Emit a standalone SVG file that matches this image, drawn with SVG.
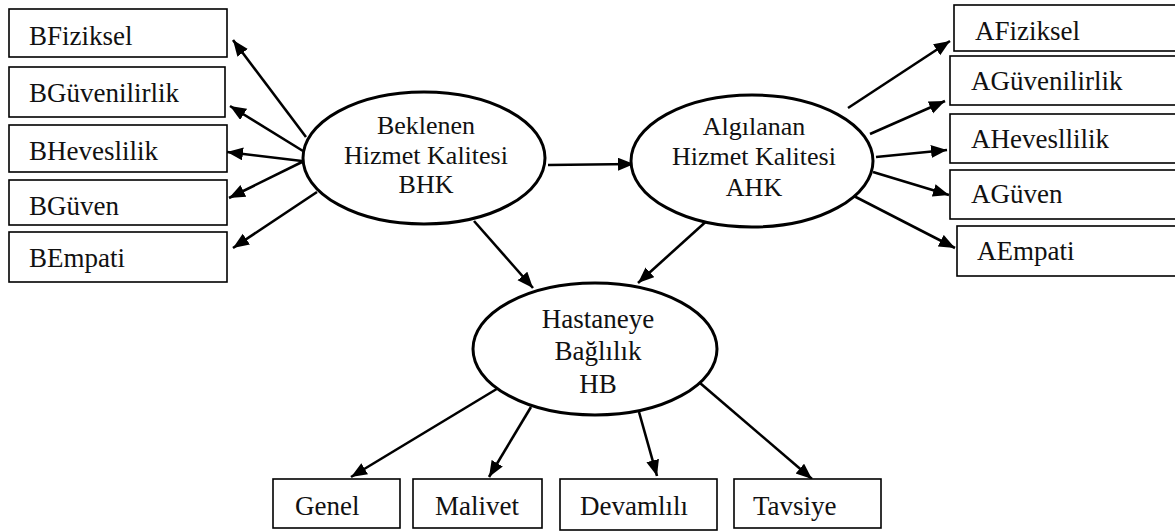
<svg xmlns="http://www.w3.org/2000/svg" width="1175" height="531" viewBox="0 0 1175 531">
<defs>
<marker id="ah" markerUnits="userSpaceOnUse" markerWidth="18" markerHeight="14" refX="16" refY="6.5" orient="auto">
<path d="M0,0 L16,6.5 L0,13 z" fill="#000"/>
</marker>
<style>
.box{fill:#fff;stroke:#000;stroke-width:1.6}
.ell{fill:#fff;stroke:#000;stroke-width:3}
.c{text-anchor:middle;font-size:26px}
.e{stroke:#000;stroke-width:2.6;fill:none;marker-end:url(#ah)}
</style>
</defs>
<rect width="1175" height="531" fill="#fff"/>
<g id="connectors">
<line class="e" x1="306" y1="137" x2="233" y2="40"/>
<line class="e" x1="303" y1="151" x2="230" y2="106"/>
<line class="e" x1="302" y1="161" x2="227" y2="152"/>
<line class="e" x1="302" y1="162" x2="229" y2="198"/>
<line class="e" x1="317" y1="192" x2="233" y2="248"/>
<line class="e" x1="548" y1="165" x2="634" y2="164"/>
<line class="e" x1="848" y1="108" x2="950" y2="41"/>
<line class="e" x1="870" y1="134" x2="945" y2="101"/>
<line class="e" x1="876" y1="157" x2="947" y2="150"/>
<line class="e" x1="873" y1="172" x2="949" y2="195"/>
<line class="e" x1="848" y1="193" x2="955" y2="248"/>
<line class="e" x1="474" y1="221" x2="533" y2="288"/>
<line class="e" x1="721" y1="208" x2="638" y2="283"/>
<line class="e" x1="500" y1="387" x2="351" y2="477"/>
<line class="e" x1="531" y1="407" x2="489" y2="477"/>
<line class="e" x1="639" y1="412" x2="657" y2="476"/>
<line class="e" x1="700" y1="383" x2="812" y2="479"/>
</g>
<g font-family="Liberation Serif, Times New Roman, serif" font-size="27" fill="#111">
<g id="BFiziksel"><rect class="box" x="9" y="9" width="218" height="48"/><text x="29" y="45">BFiziksel</text></g>
<g id="BGuvenilirlik"><rect class="box" x="9" y="67" width="216" height="50"/><text x="29" y="102">BGüvenilirlik</text></g>
<g id="BHeveslilik"><rect class="box" x="9" y="125" width="218" height="47"/><text x="29" y="160">BHeveslilik</text></g>
<g id="BGuven"><rect class="box" x="9" y="180" width="218" height="45"/><text x="29" y="215">BGüven</text></g>
<g id="BEmpati"><rect class="box" x="9" y="232" width="218" height="50"/><text x="29" y="267">BEmpati</text></g>
<g id="AFiziksel"><rect class="box" x="954" y="5" width="230" height="46"/><text x="975" y="40">AFiziksel</text></g>
<g id="AGuvenilirlik"><rect class="box" x="950" y="56" width="234" height="49"/><text x="971" y="90">AGüvenilirlik</text></g>
<g id="AHevesllilik"><rect class="box" x="950" y="114" width="234" height="49"/><text x="971" y="148">AHevesllilik</text></g>
<g id="AGuven"><rect class="box" x="950" y="170" width="234" height="49"/><text x="971" y="203">AGüven</text></g>
<g id="AEmpati"><rect class="box" x="957" y="226" width="227" height="50"/><text x="977" y="260">AEmpati</text></g>
<g id="BHK"><ellipse class="ell" cx="424" cy="158" rx="121" ry="66"/><text class="c" x="426" y="134">Beklenen</text><text class="c" x="426" y="164">Hizmet Kalitesi</text><text class="c" x="426" y="193">BHK</text></g>
<g id="AHK"><ellipse class="ell" cx="752" cy="161" rx="121" ry="66"/><text class="c" x="754" y="135">Algılanan</text><text class="c" x="754" y="165">Hizmet Kalitesi</text><text class="c" x="754" y="196">AHK</text></g>
<g id="HB"><ellipse class="ell" cx="595" cy="349" rx="122" ry="66"/><text class="c" x="598" y="328" style="font-size:27px">Hastaneye</text><text class="c" x="598" y="360" style="font-size:27px">Bağlılık</text><text class="c" x="598" y="393" style="font-size:27px">HB</text></g>
<g id="Genel"><rect class="box" x="273" y="479" width="127" height="49"/><text x="295" y="515">Genel</text></g>
<g id="Malivet"><rect class="box" x="413" y="479" width="129" height="49"/><text x="435" y="515">Malivet</text></g>
<g id="Devamlili"><rect class="box" x="560" y="479" width="157" height="51"/><text x="580" y="515">Devamlılı</text></g>
<g id="Tavsiye"><rect class="box" x="734" y="479" width="147" height="49"/><text x="753" y="515">Tavsiye</text></g>
</g>
</svg>
